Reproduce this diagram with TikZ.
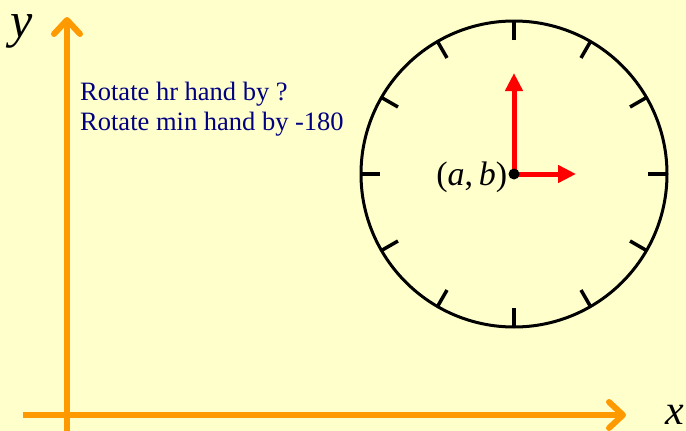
\documentclass[tikz,border=0pt]{standalone}
\usepackage{fontspec}
\setmainfont{Liberation Serif}
\usetikzlibrary{arrows.meta, positioning, calc}
\definecolor{bgyellow}{RGB}{255,255,204}
\definecolor{axisorange}{RGB}{255,153,0}
\definecolor{textnavy}{RGB}{0,0,128}
\definecolor{handred}{RGB}{255,0,0}
\tikzset{
  axis/.style={line width=6pt, axisorange, -{Straight Barb[length=14pt,width=26pt,line cap=round,line join=round]}},
  hand/.style={line width=5pt, handred, -{Triangle[length=18pt,width=17pt]}},
  clocktick/.style={line width=3.5pt, black},
  axislabel/.style={font=\fontsize{42}{42}\selectfont\itshape, inner sep=0pt},
  note/.style={font=\fontsize{26.5}{30}\selectfont, text=textnavy, inner sep=0pt, anchor=base west},
  dot/.style={circle, fill=black, inner sep=0pt, minimum size=11pt}
}
\begin{document}
\begin{tikzpicture}[x=1pt,y=-1pt]
    \fill[bgyellow] (0,0) rectangle (686,431);
    \useasboundingbox (0,0) rectangle (686,431);

    % axes
    \coordinate (ystart) at (67,431);
    \coordinate (yend) at (67,17);
    \coordinate (xstart) at (23,415);
    \coordinate (xend) at (626,415);
    \draw [axis] (ystart) -- (yend);
    \draw [axis] (xstart) -- (xend);
    \node (ylabel) [axislabel, font=\fontsize{50}{50}\selectfont\itshape] at (22,31) {y};
    \node (xlabel) [axislabel] at (675,415) {x};

    % notes
    \node (hrnote) [note] at (80,100) {Rotate hr hand by ?};
    \node (minnote) [note] at (80,130) {Rotate min hand by -180};

    % clock face
    \coordinate (center) at (514,174);
    \draw [line width=3pt] (center) circle (153);
    \foreach \a in {0,30,...,330}
        \draw [clocktick] ($(center)+(\a:134)$) -- ($(center)+(\a:153)$);

    % hands
    \coordinate (hrtip) at (514,73);
    \coordinate (mintip) at (576,174);
    \draw [hand] (center) -- (hrtip);
    \draw [hand] (center) -- (mintip);
    \node (pivot) [dot] at (center) {};
    \node (ablabel) [left=1pt of pivot, yshift=-3pt, inner sep=0pt, font=\fontsize{34}{34}\selectfont] {(\textit{a},\,\textit{b})};
\end{tikzpicture}
\end{document}
